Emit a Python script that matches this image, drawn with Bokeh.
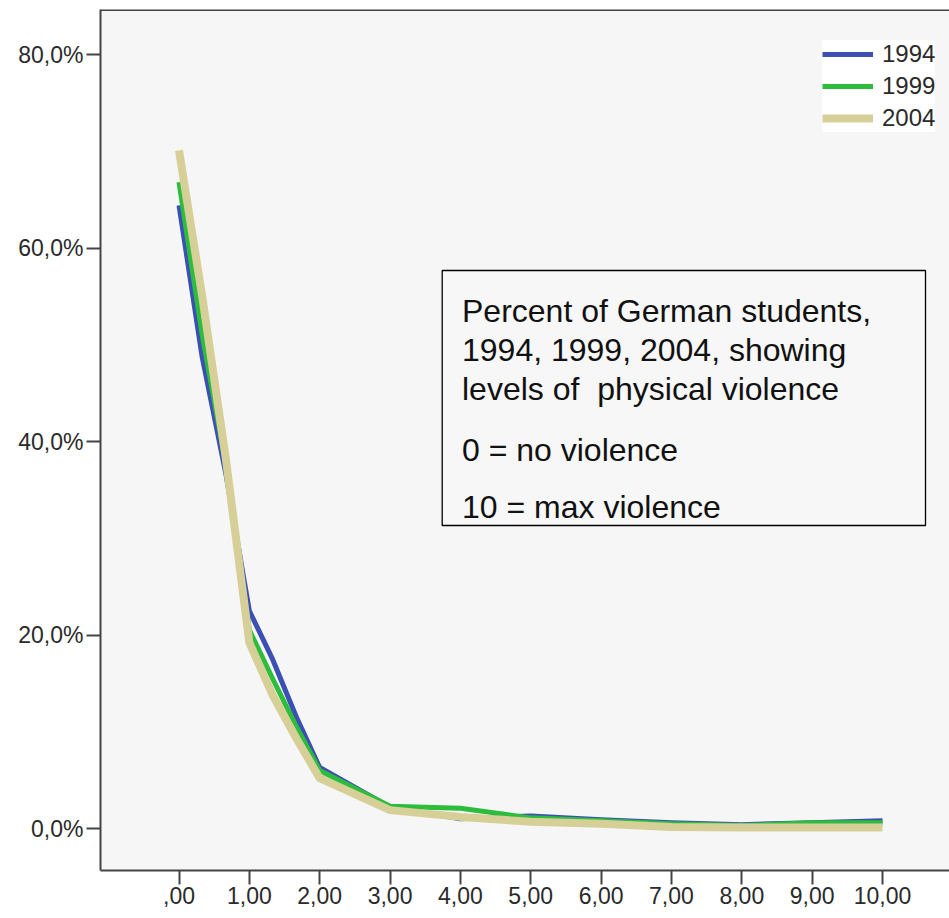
from bokeh.plotting import figure
from bokeh.models import Range1d, FixedTicker, Legend, LegendItem, Span
from bokeh.embed import file_html
from bokeh.resources import INLINE
from bokeh.core.properties import value

# ---- data ----
levels = [0, 0.33, 0.67, 1, 1.33, 1.67, 2, 3, 4, 5, 6, 7, 8, 9, 10]
pct_1994 = [64.4, 48.7, 36.5, 22.5, 17.5, 11.5, 6.3, 2.2, 1.0, 1.3, 0.9, 0.6, 0.4, 0.6, 0.8]
pct_1999 = [66.8, 51.0, 37.5, 20.5, 15.5, 10.5, 6.0, 2.3, 2.1, 1.1, 0.8, 0.5, 0.3, 0.6, 0.6]
pct_2004 = [70.1, 55.0, 38.0, 19.2, 13.8, 9.3, 5.2, 1.9, 1.2, 0.7, 0.5, 0.15, 0.1, 0.1, 0.1]
years = ["1994", "1999", "2004"]
x_ticks = [0, 1, 2, 3, 4, 5, 6, 7, 8, 9, 10]
x_tick_labels = [",00", "1,00", "2,00", "3,00", "4,00", "5,00", "6,00", "7,00", "8,00", "9,00", "10,00"]
y_ticks = [0, 20, 40, 60, 80]
y_tick_labels = ["0,0%", "20,0%", "40,0%", "60,0%", "80,0%"]
note_lines = ["Percent of German students,", "1994, 1999, 2004, showing",
              "levels of\u00a0 physical violence", "0 = no violence", "10 = max violence"]

# ---- layout helpers (pixel -> data) ----
X0, XS = 178.5, 70.35   # px of x=0, px per unit
Y0, YS = 828.0, 9.675   # px of y=0, px per percent
def px2x(px):
    return (px - X0) / XS
def py2y(py):
    return (Y0 - py) / YS

FONT = "Liberation Sans"
AX = "#444444"

p = figure(width=949, height=918, output_backend="svg", toolbar_location=None,
           x_range=Range1d(px2x(100), px2x(949)), y_range=Range1d(py2y(870), py2y(9)),
           min_border_left=100, min_border_right=0, min_border_top=9, min_border_bottom=48,
           background_fill_color="#f6f6f6", border_fill_color="white")
p.outline_line_color = None
p.grid.visible = False

for ax, ticks, labels in ((p.xaxis, x_ticks, x_tick_labels), (p.yaxis, y_ticks, y_tick_labels)):
    ax.ticker = FixedTicker(ticks=ticks)
    ax.major_label_overrides = {t: l for t, l in zip(ticks, labels)}
    ax.minor_tick_line_color = None
    ax.major_tick_out = 14
    ax.major_tick_in = 0
    ax.major_tick_line_width = 2
    ax.major_tick_line_color = AX
    ax.axis_line_width = 2
    ax.axis_line_color = AX
    ax.major_label_text_font = FONT
    ax.major_label_text_font_size = "23px"
    ax.major_label_text_color = "#2a2a2a"
p.xaxis.major_label_standoff = 2
p.yaxis.major_label_standoff = 3

p.add_layout(Span(location=py2y(9.5), dimension="width", line_color=AX, line_width=2))

colors = ["#3b4fb4", "#2dbd3d", "#d6cf98"]
widths = [5, 5, 8]
series = [pct_1994, pct_1999, pct_2004]
items = []
for yr, vals, c, w in zip(years, series, colors, widths):
    r = p.line(levels, vals, line_color=c, line_width=w, line_join="round")
    items.append(LegendItem(label=yr, renderers=[r]))

legend = Legend(items=items, location=(722, 738),
                glyph_width=51, glyph_height=20, label_height=20, label_standoff=9,
                spacing=4, padding=10, margin=0,
                label_text_font=FONT, label_text_font_size="24px", label_text_color="#2a2a2a",
                border_line_color=None, background_fill_color="white", background_fill_alpha=1)
p.add_layout(legend)

# note box
p.quad(left=[px2x(441.7)], right=[px2x(925)], top=[py2y(270)], bottom=[py2y(525)],
       fill_color="#f7f7f7", line_color="black", line_width=1.3)
note_base = [310, 349.5, 388.5, 449.5, 506.5]
p.text(x=[px2x(461.5)] * len(note_lines), y=[py2y(b) for b in note_base], text=note_lines,
       text_font=value(FONT), text_font_size="32px", text_baseline="alphabetic",
       text_align="left", text_color="#111111")

open("out.html", "w").write(file_html(p, INLINE))
